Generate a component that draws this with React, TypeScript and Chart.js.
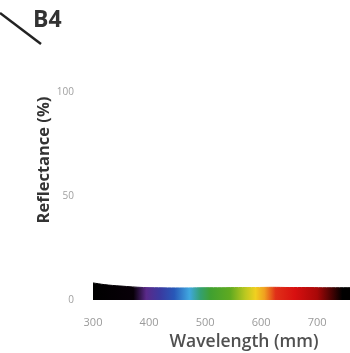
import React, { useEffect, useRef } from "react";
import { Chart, registerables } from "chart.js";

Chart.register(...registerables);

// Data
const wavelengths = [300, 310, 320, 335, 350, 370, 390, 410, 440, 470, 500, 530, 560, 590, 620, 650, 680, 710, 740, 770, 800, 839];
const reflectance = [8.2, 7.8, 7.4, 7.0, 6.7, 6.3, 6.0, 5.9, 5.8, 5.8, 5.9, 5.9, 6.0, 6.0, 6.1, 6.0, 6.0, 5.9, 5.9, 5.9, 5.9, 5.9];
const xTicks = [300, 400, 500, 600, 700];
const yTicks = [0, 50, 100];
const panelLabel = "B4";
const xTitle = "Wavelength (mm)";
const yTitle = "Reflectance (%)";

// Spectrum gradient styling (wavelength -> colour)
const spectrumStops: [number, string][] = [
  [300, "#000000"],
  [372, "#080008"],
  [395, "#5a2a8a"],
  [420, "#3a3aa0"],
  [445, "#2858b8"],
  [472, "#40a8e0"],
  [492, "#34a070"],
  [510, "#40a030"],
  [545, "#60aa20"],
  [572, "#bcc820"],
  [590, "#f0d020"],
  [606, "#f0a020"],
  [626, "#e03018"],
  [660, "#d81010"],
  [700, "#a80808"],
  [745, "#000000"],
  [839, "#000000"],
];

const labelPlugin = {
  id: "panelLabel",
  afterDraw(chart: any) {
    const ctx = chart.ctx;
    ctx.save();
    ctx.strokeStyle = "#222";
    ctx.lineWidth = 2.5;
    ctx.beginPath();
    ctx.moveTo(0, 13);
    ctx.lineTo(41, 44);
    ctx.stroke();
    ctx.fillStyle = "#333";
    ctx.font = "bold 23px 'Open Sans', sans-serif";
    ctx.textBaseline = "alphabetic";
    ctx.fillText(panelLabel, 33, 27);
    ctx.restore();
  },
};

function makeGradient(chart: any) {
  const { ctx, chartArea, scales } = chart;
  if (!chartArea) return "#000";
  const xs = scales.x;
  const g = ctx.createLinearGradient(chartArea.left, 0, chartArea.right, 0);
  const w = chartArea.right - chartArea.left;
  for (const [wl, c] of spectrumStops) {
    const p = (xs.getPixelForValue(wl) - chartArea.left) / w;
    g.addColorStop(Math.min(1, Math.max(0, p)), c);
  }
  return g;
}

export default function App() {
  const ref = useRef<HTMLCanvasElement | null>(null);
  useEffect(() => {
    if (!ref.current) return;
    const chart = new Chart(ref.current, {
      type: "line",
      data: {
        datasets: [
          {
            data: wavelengths.map((w, i) => ({ x: w, y: reflectance[i] })),
            fill: "origin",
            backgroundColor: (c: any) => makeGradient(c.chart),
            borderColor: (c: any) => makeGradient(c.chart),
            borderWidth: 1,
            pointRadius: 0,
            tension: 0.3,
          },
        ],
      },
      options: {
        animation: false,
        responsive: true,
        maintainAspectRatio: false,
        layout: { padding: { top: 20, left: 0, right: 0, bottom: 0 } },
        plugins: { legend: { display: false }, tooltip: { enabled: false } },
        scales: {
          x: {
            type: "linear",
            min: 300,
            max: 839,
            grid: { display: false, drawTicks: false },
            border: { display: false },
            afterBuildTicks: (s: any) => {
              s.ticks = xTicks.map((v) => ({ value: v }));
            },
            afterFit: (s: any) => {
              s.height = 53;
              s.paddingLeft = 0;
              s.paddingRight = 0;
            },
            ticks: {
              padding: 16,
              color: "#9a9a9a",
              font: { family: "'Open Sans', sans-serif", size: 11 },
              maxRotation: 0,
            },
            title: {
              display: true,
              text: xTitle,
              color: "#505050",
              font: { family: "'Open Sans', sans-serif", size: 17.5, weight: "600" },
              padding: { top: 0, bottom: 0 },
            },
          },
          y: {
            min: 0,
            max: 134.6,
            grid: { display: false, drawTicks: false },
            border: { display: false },
            afterBuildTicks: (s: any) => {
              s.ticks = yTicks.map((v) => ({ value: v }));
            },
            afterFit: (s: any) => {
              s.width = 93;
              s.paddingTop = 0;
              s.paddingBottom = 0;
            },
            ticks: {
              padding: 19,
              color: "#a0a0a0",
              font: { family: "'Open Sans', sans-serif", size: 10 },
            },
            title: {
              display: true,
              text: yTitle,
              color: "#333",
              font: { family: "'Open Sans', sans-serif", size: 16.5, weight: "bold" },
              padding: { top: 34, bottom: 0 },
            },
          },
        },
      },
      plugins: [labelPlugin],
    });
    return () => chart.destroy();
  }, []);
  return (
    <div style={{ position: "fixed", left: 0, top: 0, width: 350, height: 353, overflow: "hidden", background: "#fff" }}>
      <div style={{ position: "absolute", left: 0, top: 0, width: 395, height: 353 }}>
        <canvas ref={ref} />
      </div>
    </div>
  );
}
